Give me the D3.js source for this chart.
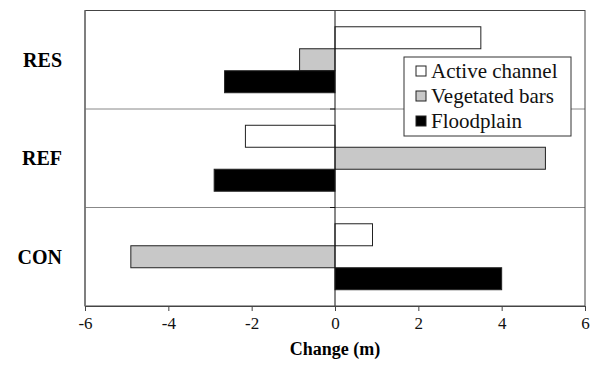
<!DOCTYPE html>
<html>
<head>
<script src="https://cdnjs.cloudflare.com/ajax/libs/d3/7.8.5/d3.min.js"></script>
</head>
<body style="margin:0;background:#fff">
<script>
// data
const categories = ["RES", "REF", "CON"];
const series = ["Active channel", "Vegetated bars", "Floodplain"];
const activeChannel = [3.5, -2.15, 0.9];
const vegetatedBars = [-0.85, 5.05, -4.9];
const floodplain = [-2.65, -2.9, 4.0];
const xTicks = [-6, -4, -2, 0, 2, 4, 6];

const values = [activeChannel, vegetatedBars, floodplain];
const fills = ["#ffffff", "#c8c8c8", "#000000"];
const FONT = "'Liberation Serif'";

const W = 595, H = 365;
const m = { left: 85, right: 10, top: 10.5, bottom: 59 };

const svg = d3.select("body").append("svg")
  .attr("width", W).attr("height", H)
  .style("display", "block");

const x = d3.scaleLinear().domain([-6, 6]).range([m.left, W - m.right]);
const y = d3.scaleBand().domain(categories).range([m.top, H - m.bottom]);
const inner = d3.scaleBand().domain(series)
  .range([0, y.bandwidth()]).paddingInner(0).paddingOuter(0.74);

// category separators
svg.append("g").selectAll("line")
  .data(categories.slice(1))
  .join("line")
  .attr("x1", x(-6)).attr("x2", x(6))
  .attr("y1", d => y(d)).attr("y2", d => y(d))
  .attr("stroke", "#888").attr("stroke-width", 1);

// bars
const rows = [];
categories.forEach((c, i) => series.forEach((s, j) => rows.push({ c, s, j, v: values[j][i] })));

svg.append("g").selectAll("rect")
  .data(rows)
  .join("rect")
  .attr("x", d => x(Math.min(0, d.v)))
  .attr("width", d => Math.abs(x(d.v) - x(0)))
  .attr("y", d => y(d.c) + inner(d.s))
  .attr("height", inner.bandwidth())
  .attr("fill", d => fills[d.j])
  .attr("stroke", "#222").attr("stroke-width", 1);

// zero line with category ticks
svg.append("line")
  .attr("x1", x(0)).attr("x2", x(0))
  .attr("y1", m.top).attr("y2", H - m.bottom)
  .attr("stroke", "#111");
svg.append("g").selectAll("line")
  .data(categories.slice(1))
  .join("line")
  .attr("x1", x(0) - 5).attr("x2", x(0))
  .attr("y1", d => y(d)).attr("y2", d => y(d))
  .attr("stroke", "#111");

// plot frame
svg.append("rect")
  .attr("x", m.left).attr("y", m.top)
  .attr("width", x(6) - x(-6)).attr("height", H - m.bottom - m.top)
  .attr("fill", "none").attr("stroke", "#444").attr("stroke-width", 1);
svg.append("line")
  .attr("x1", m.left).attr("x2", m.left)
  .attr("y1", m.top).attr("y2", H - m.bottom)
  .attr("stroke", "#777").attr("stroke-width", 1.6);

// x axis
const xAxis = svg.append("g")
  .attr("transform", `translate(0,${H - m.bottom})`)
  .call(d3.axisBottom(x).tickValues(xTicks).tickSize(5).tickSizeOuter(0).tickFormat(d => d));
xAxis.select(".domain").attr("stroke", "#444");
xAxis.selectAll(".tick line").attr("stroke", "#444");
xAxis.selectAll(".tick text")
  .attr("fill", "#111").attr("y", 23).attr("dy", "0")
  .style("font-family", FONT, "important")
  .style("font-size", "17px");

svg.append("text")
  .attr("x", x(0)).attr("y", 355)
  .attr("text-anchor", "middle")
  .style("font-family", FONT, "important")
  .style("font-size", "18px").style("font-weight", "bold")
  .text("Change (m)");

// category labels
svg.append("g").selectAll("text")
  .data(categories)
  .join("text")
  .attr("x", 62)
  .attr("y", d => y(d) + y.bandwidth() / 2)
  .attr("dy", "0.35em")
  .attr("text-anchor", "end")
  .style("font-family", FONT, "important")
  .style("font-size", "20px").style("font-weight", "bold")
  .text(d => d);

// legend
const lg = svg.append("g").attr("transform", "translate(404,57)");
lg.append("rect")
  .attr("width", 167).attr("height", 79)
  .attr("fill", "#fff").attr("stroke", "#333");
const item = lg.selectAll("g.item")
  .data(series)
  .join("g").attr("class", "item")
  .attr("transform", (d, i) => `translate(12,${14 + i * 25})`);
item.append("rect")
  .attr("x", 0).attr("y", -5).attr("width", 10).attr("height", 10)
  .attr("fill", (d, i) => fills[i]).attr("stroke", "#222");
item.append("text")
  .attr("x", 15).attr("dy", "0.33em")
  .attr("fill", "#111")
  .style("font-family", FONT, "important")
  .style("font-size", "21px")
  .text(d => d);
</script>
</body>
</html>
